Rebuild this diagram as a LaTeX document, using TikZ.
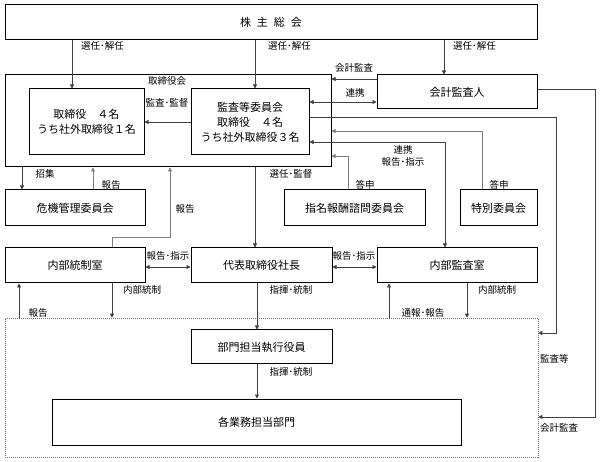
\documentclass[tikz,border=0pt]{standalone}
\usepackage{fontspec}
\setmainfont{Noto Sans CJK JP}
\usetikzlibrary{arrows.meta}
\begin{document}
\begin{tikzpicture}[x=1pt,y=-1pt,
  box/.style={draw=black, line width=1pt, fill=white, font=\fontsize{11}{15}\selectfont, align=center, inner sep=0pt},
  lab/.style={font=\fontsize{9.5}{11}\selectfont, inner sep=0pt},
  conn/.style={draw=black!75, line width=0.65pt},
  lconn/.style={draw=black!50, line width=0.65pt},
  tip/.tip={Triangle[length=4pt,width=4pt]},
  arr/.style={conn, -tip},
  larr/.style={lconn, -tip},
  darr/.style={conn, tip-tip}
]
\useasboundingbox (0,0) rectangle (600,462);
\fill[white] (0,0) rectangle (600,462);

% boxes
\node[box, minimum width=532pt, minimum height=35pt] (top) at (271,22.5) {株\hspace{6pt}主\hspace{6pt}総\hspace{6pt}会};
\node[box, minimum width=326pt, minimum height=92pt] (board) at (168,121) {};
\node[lab] (boardlab) at (167,81) {取締役会};
\node[box, minimum width=115pt, minimum height=66pt] (dir) at (86.5,122) {取締役　４名\\うち社外取締役１名};
\node[box, minimum width=118pt, minimum height=66pt] (audit) at (250,122) {監査等委員会\\取締役　４名\\うち社外取締役３名};
\node[box, minimum width=160pt, minimum height=34pt] (ext) at (457,92) {会計監査人};
\node[box, minimum width=140pt, minimum height=36pt] (risk) at (75,208) {危機管理委員会};
\node[box, minimum width=141pt, minimum height=36pt] (nom) at (354.5,208) {指名報酬諮問委員会};
\node[box, minimum width=77pt, minimum height=36pt] (spec) at (498.5,208) {特別委員会};
\node[box, minimum width=140pt, minimum height=35pt] (ic) at (75,265.5) {内部統制室};
\node[box, minimum width=141pt, minimum height=35pt] (ceo) at (261.5,265.5) {代表取締役社長};
\node[box, minimum width=160pt, minimum height=35pt] (ia) at (457,265.5) {内部監査室};
\node[draw=black!55, line width=0.6pt, dash pattern=on 1pt off 1pt, minimum width=533pt, minimum height=139pt, inner sep=0pt] (org) at (271.5,387.5) {};
\node[box, minimum width=141pt, minimum height=34pt] (exec) at (261.5,347) {部門担当執行役員};
\node[box, minimum width=409pt, minimum height=46pt] (dept) at (256.5,422) {各業務担当部門};

% helper coordinates
\coordinate (xa) at (72,0);
\coordinate (xb) at (255,0);
\coordinate (xc) at (444,0);
\coordinate (y79) at (0,79);
\coordinate (y102) at (0,102);
\coordinate (k1) at (595,89);
\coordinate (k2) at (595,417);
\coordinate (k3) at (556,117);
\coordinate (k4) at (556,333);
\coordinate (k5) at (482,131);
\coordinate (k6) at (445,142);
\coordinate (k7) at (348,156);
\coordinate (k8) at (22,0);
\coordinate (k9) at (93,0);
\coordinate (k10) at (112,237);
\coordinate (k11) at (170,237);
\coordinate (y267) at (0,267);
\coordinate (x19) at (19,0);
\coordinate (x257) at (257,0);
\coordinate (x389) at (389,0);
\coordinate (x467) at (467,0);

% connectors
\draw[arr] (top.south -| xa) -- (dir.north -| xa);
\draw[arr] (top.south -| xb) -- (audit.north -| xb);
\draw[arr] (top.south -| xc) -- (ext.north -| xc);
\draw[arr] (audit.west) -- (dir.east);
\draw[arr] (ext.west |- y79) -- (board.east |- y79);
\draw[darr] (audit.east |- y102) -- (ext.west |- y102);
\draw[arr] (ext.east |- k1) -- (k1) -- (k2) -- (org.east |- k2);
\draw[arr] (audit.east |- k3) -- (k3) -- (k4) -- (org.east |- k4);
\draw[larr] (spec.north -| k5) -- (k5) -- (board.east |- k5);
\draw[darr] (ia.north -| k6) -- (k6) -- (audit.east |- k6);
\draw[larr] (nom.north -| k7) -- (k7) -- (board.east |- k7);
\draw[arr] (board.south -| k8) -- (risk.north -| k8);
\draw[larr] (risk.north -| k9) -- (board.south -| k9);
\draw[larr] (ic.north -| k10) -- (k10) -- (k11) -- (board.south -| k11);
\draw[arr] (board.south -| xb) -- (ceo.north -| xb);
\draw[darr] (ic.east |- y267) -- (ceo.west |- y267);
\draw[darr] (ceo.east |- y267) -- (ia.west |- y267);
\draw[arr] (ic.south -| k10) -- (org.north -| k10);
\draw[arr] (org.north -| x19) -- (ic.south -| x19);
\draw[arr] (ceo.south -| x257) -- (exec.north -| x257);
\draw[arr] (org.north -| x389) -- (ia.south -| x389);
\draw[arr] (ia.south -| x467) -- (org.north -| x467);
\draw[arr] (exec.south -| x257) -- (dept.north -| x257);

% labels
\node[lab, anchor=west] (l1) at (81,46) {選任･解任};
\node[lab, anchor=west] (l2) at (268,46) {選任･解任};
\node[lab, anchor=west] (l3) at (453,46) {選任･解任};
\node[lab] (l4) at (167,103) {監査･監督};
\node[lab] (l5) at (354,68) {会計監査};
\node[lab] (l6) at (355,93) {連携};
\node[lab, align=center, font=\fontsize{9.5}{12}\selectfont] (l7) at (403,156) {連携\\報告･指示};
\node[lab] (l8) at (365,185) {答申};
\node[lab] (l9) at (499,185) {答申};
\node[lab] (l10) at (45,174) {招集};
\node[lab] (l11) at (111,185) {報告};
\node[lab] (l12) at (185,209) {報告};
\node[lab] (l13) at (291,174) {選任･監督};
\node[lab] (l14) at (168,256) {報告･指示};
\node[lab] (l15) at (354,256) {報告･指示};
\node[lab] (l16) at (142,290) {内部統制};
\node[lab] (l17) at (38,313) {報告};
\node[lab] (l18) at (291,290) {指揮･統制};
\node[lab] (l19) at (423,313) {通報･報告};
\node[lab] (l20) at (497,290) {内部統制};
\node[lab] (l21) at (291,372) {指揮･統制};
\node[lab, anchor=west] (l22) at (540,359) {監査等};
\node[lab, anchor=west] (l23) at (540,428) {会計監査};
\end{tikzpicture}
\end{document}
